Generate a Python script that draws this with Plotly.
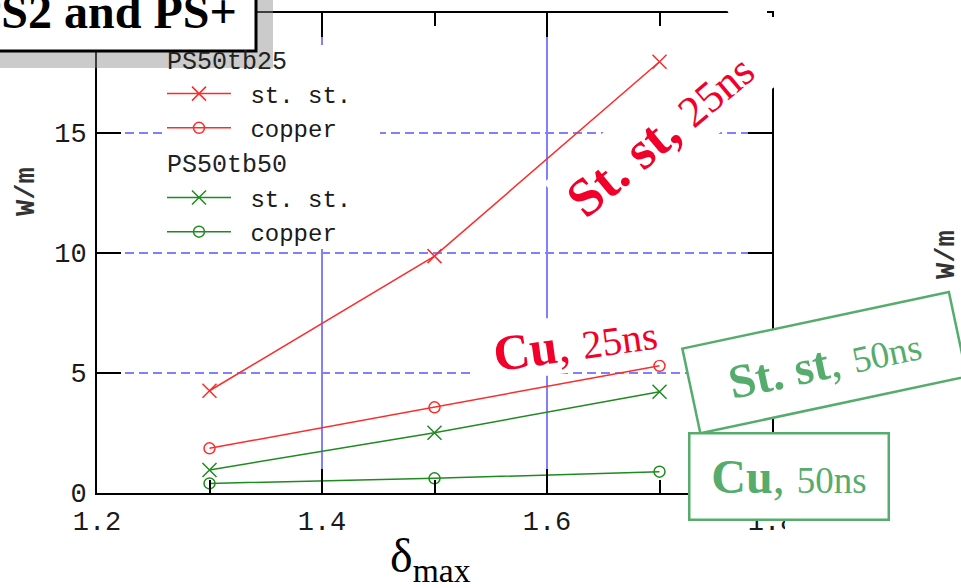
import plotly.graph_objects as go

# ---------------- data ----------------
delta_max = [1.3, 1.5, 1.7]
ps25_stst = [4.26, 9.87, 17.97]
ps25_copper = [1.86, 3.57, 5.30]
ps50_stst = [0.96, 2.51, 4.22]
ps50_copper = [0.40, 0.61, 0.89]
group_names = ["PS50tb25", "PS50tb50"]
material_names = ["st. st.", "copper"]
x_major_ticks = [1.2, 1.4, 1.6, 1.8]
x_major_labels = ["1.2", "1.4", "1.6", "1.8"]
x_minor_ticks = [1.3, 1.5, 1.7]
y_ticks = [0, 5, 10, 15, 20]
y_labels = ["0", "5", "10", "15", ""]  # the "20" label is hidden by the title box

# ---------------- geometry helpers (pixel -> paper) ----------------
W, H = 961, 588
L, R, T, B = 97, 772, 13, 493


def PX(x):
    return (x - L) / (R - L)


def PY(y):
    return (B - y) / (B - T)


RED = "#ff2a2a"
GREEN = "#1f8a1f"
RED_TXT = "#f2002a"
GREEN_TXT = "#56ac6c"
GRID = "#8080ff"
MONO = "Liberation Mono"
SERIF = "Liberation Serif"
NB = "\u00a0"

fig = go.Figure()

series = [
    (group_names[0], material_names[0], ps25_stst, RED, "x-thin-open", 14),
    (group_names[0], material_names[1], ps25_copper, RED, "circle-open", 11),
    (group_names[1], material_names[0], ps50_stst, GREEN, "x-thin-open", 14),
    (group_names[1], material_names[1], ps50_copper, GREEN, "circle-open", 11),
]
for grp, name, ys, col, sym, size in series:
    fig.add_trace(go.Scatter(
        x=delta_max, y=ys, mode="lines+markers", name=NB + name + NB * (8 - len(name)),
        legendgroup=grp,
        legendgrouptitle=dict(text=grp, font=dict(family=MONO, size=25, color="#222")),
        line=dict(color=col, width=1.5),
        marker=dict(symbol=sym, size=size, color=col, line=dict(color=col, width=1.5)),
    ))

tickfont = dict(family=MONO, size=27, color="#1a1a1a")
fig.update_xaxes(
    range=[1.2, 1.8], tickmode="array", tickvals=x_major_ticks, ticktext=x_major_labels,
    ticks="inside", ticklen=24, tickwidth=2, tickcolor="black",
    showline=True, linecolor="black", linewidth=2, mirror="ticks",
    showgrid=True, gridcolor=GRID, gridwidth=2,
    minor=dict(tickmode="array", tickvals=x_minor_ticks, ticks="inside", ticklen=13,
               tickwidth=2, tickcolor="black", showgrid=False),
    tickfont=tickfont, ticklabelstandoff=3, zeroline=False, automargin=False,
)
fig.update_yaxes(
    range=[0, 20], tickmode="array", tickvals=y_ticks, ticktext=y_labels,
    ticks="inside", ticklen=24, tickwidth=2, tickcolor="black",
    showline=True, linecolor="black", linewidth=2, mirror="ticks",
    showgrid=True, gridcolor=GRID, gridwidth=2, griddash="9px,5px",
    tickfont=tickfont, ticklabelstandoff=3, zeroline=False, automargin=False,
)

shapes = []
# white key background (hides the grid behind the key)
shapes.append(dict(type="rect", xref="paper", yref="paper",
                   x0=PX(165), x1=PX(380), y0=PY(249), y1=PY(45),
                   fillcolor="white", line=dict(width=0), layer="above"))
# semi-transparent shadow of the title box
shapes.append(dict(type="rect", xref="paper", yref="paper",
                   x0=PX(-20), x1=PX(273), y0=PY(68), y1=PY(-20),
                   fillcolor="#8c8c8c", opacity=0.45, line=dict(width=0), layer="above"))
# title box
shapes.append(dict(type="rect", xref="paper", yref="paper",
                   x0=PX(-20), x1=PX(256), y0=PY(51), y1=PY(-20),
                   fillcolor="white", line=dict(color="black", width=3), layer="above"))
# white slide area to the right of the chart
shapes.append(dict(type="rect", xref="paper", yref="paper",
                   x0=PX(785), x1=PX(990), y0=PY(600), y1=PY(-10),
                   fillcolor="white", line=dict(width=0), layer="above"))
# white corner patch (top-right)
pts = [(724, 5), (767, 5), (767, 17), (777, 17), (777, 86), (770, 86)]
path = "M " + " L ".join(f"{PX(a):.5f},{PY(b):.5f}" for a, b in pts) + " Z"
shapes.append(dict(type="path", xref="paper", yref="paper", path=path,
                   fillcolor="white", line=dict(width=0), layer="above"))

annotations = []
# title
annotations.append(dict(xref="paper", yref="paper", x=PX(-30), y=PY(29), xanchor="left", yanchor="bottom",
                        yshift=-11, text="<b>PS2 and PS+</b>", showarrow=False,
                        font=dict(family=SERIF, size=48, color="black")))
# y-axis label
annotations.append(dict(xref="paper", yref="paper", x=PX(27), y=PY(192), xanchor="center", yanchor="middle",
                        text="<b>W/m</b>", textangle=-90, showarrow=False,
                        font=dict(family=MONO, size=27, color="#333")))
# x-axis label
annotations.append(dict(xref="paper", yref="paper", x=PX(430), y=PY(559), xanchor="center", yanchor="middle",
                        text="δ<sub>max</sub>", showarrow=False,
                        font=dict(family=SERIF, size=48, color="black")))
# St. st, 25ns
annotations.append(dict(xref="paper", yref="paper", x=PX(660), y=PY(134), xanchor="center", yanchor="middle",
                        text="<b>St. st,</b> <span style='font-size:44px'>25ns</span>",
                        textangle=-40, showarrow=False, bgcolor="white", borderpad=0,
                        width=240, height=74,
                        font=dict(family=SERIF, size=54, color=RED_TXT)))
# Cu, 25ns
annotations.append(dict(xref="paper", yref="paper", x=PX(575), y=PY(343), xanchor="center", yanchor="middle",
                        text="<b>Cu</b>, <span style='font-size:40px'>25ns</span>",
                        textangle=-8, showarrow=False, bgcolor="white", borderpad=0,
                        width=212, height=56,
                        font=dict(family=SERIF, size=50, color=RED_TXT)))
# St. st, 50ns (boxed)
annotations.append(dict(xref="paper", yref="paper", x=PX(825), y=PY(362), xanchor="center", yanchor="middle",
                        text="<b>St. st</b>, <span style='font-size:37px'>50ns</span>",
                        textangle=-12, showarrow=False, bgcolor="white", borderpad=0,
                        bordercolor=GREEN_TXT, borderwidth=2.5, width=270, height=84,
                        font=dict(family=SERIF, size=48, color=GREEN_TXT)))
# Cu, 50ns (boxed)
annotations.append(dict(xref="paper", yref="paper", x=PX(789), y=PY(476.5), xanchor="center", yanchor="middle",
                        text="<b>Cu</b>, <span style='font-size:37px'>50ns</span>",
                        showarrow=False, bgcolor="white", borderpad=0,
                        bordercolor=GREEN_TXT, borderwidth=2.5, width=197, height=84,
                        font=dict(family=SERIF, size=48, color=GREEN_TXT)))
# right neighbouring chart's axis label
annotations.append(dict(xref="paper", yref="paper", x=PX(947), y=PY(255), xanchor="center", yanchor="middle",
                        text="<b>W/m</b>", textangle=-90, showarrow=False,
                        font=dict(family=MONO, size=27, color="#333")))

fig.update_layout(
    width=W, height=H,
    margin=dict(l=L, r=W - R, t=T, b=H - B, pad=0, autoexpand=False),
    paper_bgcolor="white", plot_bgcolor="white",
    showlegend=True,
    legend=dict(x=PX(162), y=PY(36), xanchor="left", yanchor="top",
                bgcolor="rgba(0,0,0,0)", borderwidth=0, traceorder="grouped", tracegroupgap=0,
                itemwidth=64, font=dict(family=MONO, size=24, color="#1a1a1a"),
                grouptitlefont=dict(family=MONO, size=25, color="#222")),
    shapes=shapes, annotations=annotations,
)

fig.write_html("out.html", config={"displayModeBar": False},
               post_script="document.body.style.margin='0px';document.body.style.overflow='hidden';")
